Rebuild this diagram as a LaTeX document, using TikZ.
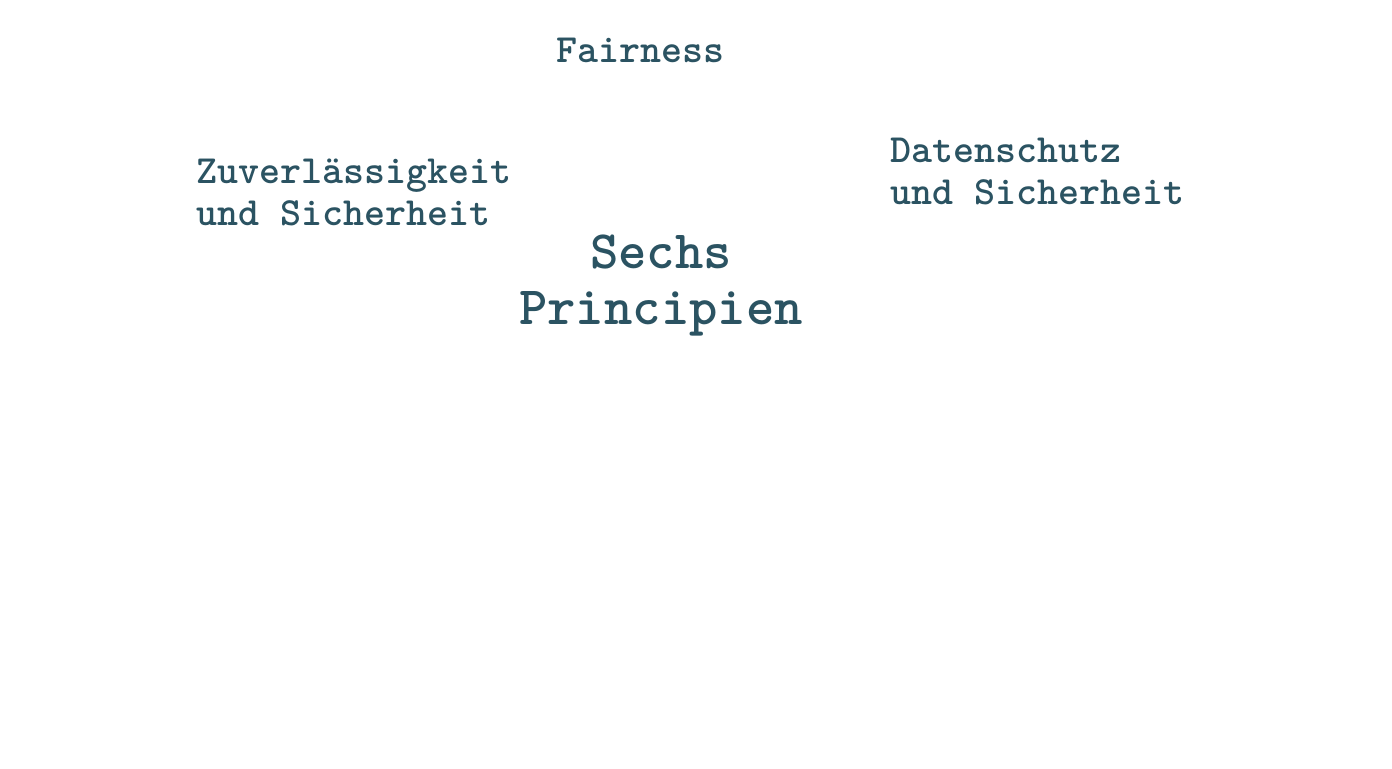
\documentclass[tikz,border=0pt]{standalone}
\usepackage{fontspec}
\usetikzlibrary{positioning,calc}
\definecolor{textteal}{HTML}{2B5362}

\begin{document}
\begin{tikzpicture}[
        x=0.5pt, y=-0.5pt,
        labelsty/.style={
            font=\ttfamily\bfseries\fontsize{20pt}{21pt}\selectfont,
            text=textteal, inner sep=0pt,
            align=left,
        },
        titlesty/.style={
            font=\ttfamily\bfseries\fontsize{27pt}{28pt}\selectfont,
            text=textteal, inner sep=0pt,
            align=center,
        },
    ]

    \useasboundingbox[fill=white] (0,0) rectangle (1392,768);

    \node[titlesty] at (661,286) (center) {Sechs\\Principien};

    \node[labelsty, anchor=center] at (640,50) (fair) {Fairness};
    \node[labelsty, anchor=west] at (196,192) (zuv) {Zuverlässigkeit\\und Sicherheit};
    \node[labelsty, anchor=west] at (890,171) (daten) {Datenschutz\\und Sicherheit};

\end{tikzpicture}
\end{document}
